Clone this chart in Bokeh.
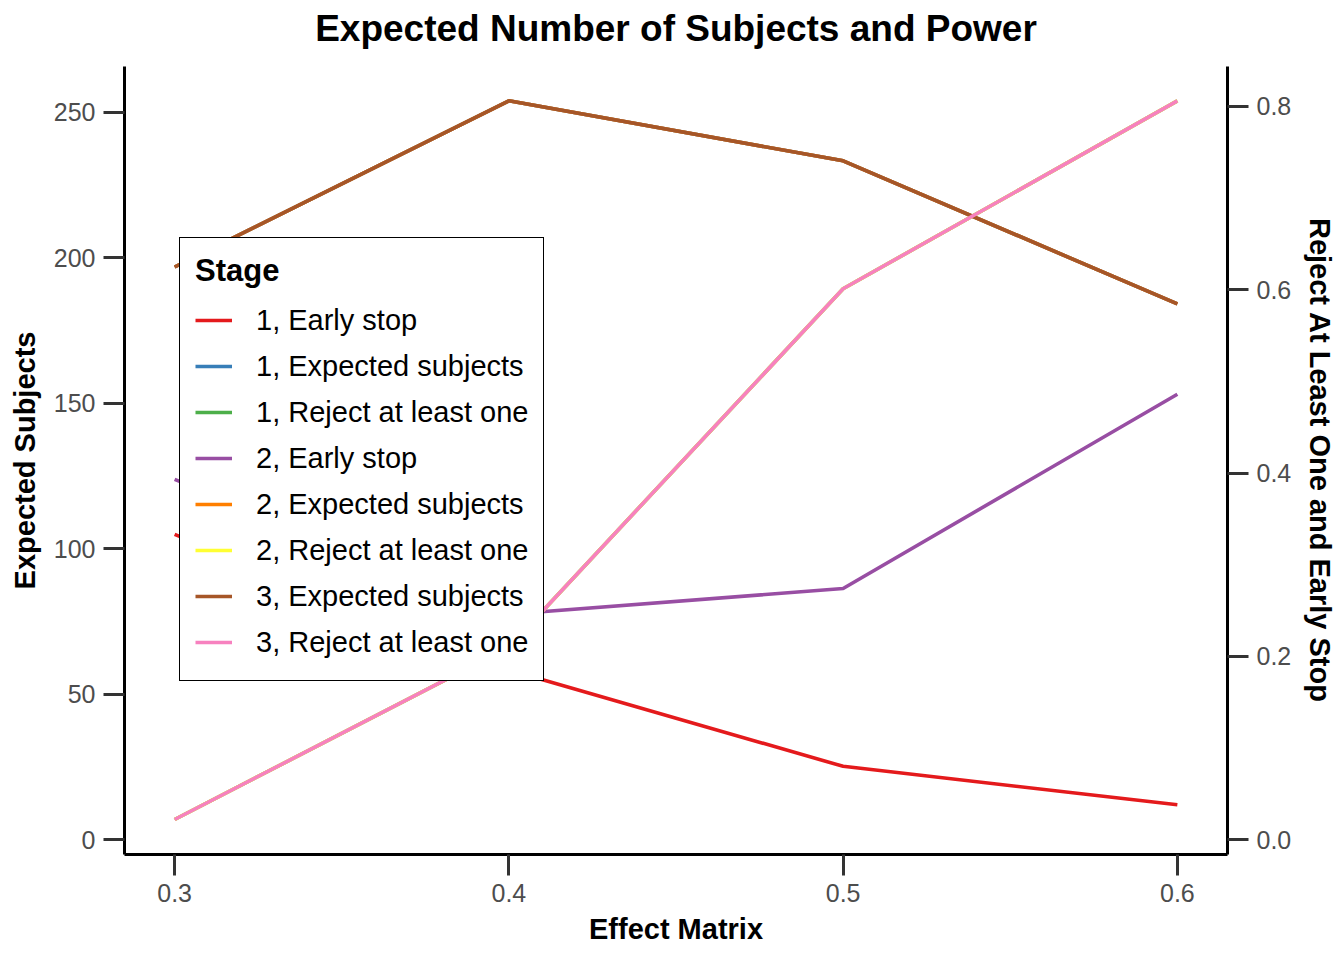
from bokeh.plotting import figure
from bokeh.models import (Range1d, LinearAxis, FixedTicker, Legend, LegendItem,
                          PrintfTickFormatter)
from bokeh.embed import file_html
from bokeh.resources import INLINE

# ---- data ----
effect = [0.3, 0.4, 0.5, 0.6]
stage_labels = ["1, Early stop", "1, Expected subjects", "1, Reject at least one",
                "2, Early stop", "2, Expected subjects", "2, Reject at least one",
                "3, Expected subjects", "3, Reject at least one"]
colors = ["#E41A1C", "#377EB8", "#4DAF4A", "#984EA3", "#FF7F00", "#FFFF33",
          "#A65628", "#F781BF"]

s1_early_stop = [0.333, 0.185, 0.080, 0.038]
s1_expected = [196.8, 253.9, 233.3, 184.1]
s1_reject = [0.022, 0.210, 0.601, 0.806]
s2_early_stop = [0.393, 0.246, 0.274, 0.486]
s2_expected = [196.8, 253.9, 233.3, 184.1]
s2_reject = [0.022, 0.210, 0.601, 0.806]
s3_expected = [196.8, 253.9, 233.3, 184.1]
s3_reject = [0.022, 0.210, 0.601, 0.806]

series = [s1_early_stop, s1_expected, s1_reject, s2_early_stop, s2_expected,
          s2_reject, s3_expected, s3_reject]
on_left = [False, True, False, False, True, False, True, False]

x_ticks = [0.3, 0.4, 0.5, 0.6]
left_ticks = [0, 50, 100, 150, 200, 250]
right_ticks = [0.0, 0.2, 0.4, 0.6, 0.8]

title_text = "Expected Number of Subjects and Power"

FONT = "Liberation Sans"

p = figure(frame_width=1103, frame_height=788,
           min_border_left=124, min_border_right=101,
           min_border_top=66, min_border_bottom=90,
           x_range=Range1d(0.285, 0.615), y_range=Range1d(-5.1, 265.7),
           output_backend="svg", toolbar_location=None)
p.extra_y_ranges = {"power": Range1d(-5.1 / 315.0, 265.7 / 315.0)}

p.outline_line_color = None
p.xgrid.visible = False
p.ygrid.visible = False
p.background_fill_color = "white"
p.border_fill_color = "white"

bottom_axis = p.below[0]
left_axis = p.left[0]
right_axis = LinearAxis(y_range_name="power")
p.add_layout(right_axis, "right")


def style_axis(ax, label, ticks, fmt=None, label_standoff=8):
    ax.axis_label = label
    ax.ticker = FixedTicker(ticks=ticks)
    if fmt is not None:
        ax.formatter = PrintfTickFormatter(format=fmt)
    ax.axis_label_text_font = FONT
    ax.axis_label_text_font_size = "29px"
    ax.axis_label_text_font_style = "bold"
    ax.axis_label_text_color = "black"
    ax.major_label_text_font = FONT
    ax.major_label_text_font_size = "25px"
    ax.major_label_text_color = "#4D4D4D"
    ax.major_tick_out = 21
    ax.major_tick_in = 0
    ax.major_tick_line_width = 3
    ax.major_tick_line_color = "#333333"
    ax.minor_tick_line_color = None
    ax.axis_line_width = 3
    ax.axis_line_color = "black"
    ax.major_label_standoff = 8
    ax.axis_label_standoff = label_standoff


style_axis(bottom_axis, "Effect Matrix", x_ticks, "%.1f", 8)
style_axis(left_axis, "Expected Subjects", left_ticks, None, 10)
style_axis(right_axis, "Reject At Least One and Early Stop", right_ticks, "%.1f", 10)

# title: drawn as the label of a bare axis above the plot area
title_axis = LinearAxis(ticker=FixedTicker(ticks=[]), axis_label=title_text)
title_axis.axis_line_color = None
title_axis.major_tick_line_color = None
title_axis.minor_tick_line_color = None
title_axis.major_tick_out = 0
title_axis.major_tick_in = 0
title_axis.minor_tick_out = 0
title_axis.minor_tick_in = 0
title_axis.major_label_standoff = 0
title_axis.major_label_text_font_size = "0px"
title_axis.axis_label_standoff = 18
title_axis.axis_label_text_font = FONT
title_axis.axis_label_text_font_size = "37px"
title_axis.axis_label_text_font_style = "bold"
title_axis.axis_label_text_color = "black"
p.add_layout(title_axis, "above")

items = []
for lab, col, ys, left in zip(stage_labels, colors, series, on_left):
    kw = {} if left else {"y_range_name": "power"}
    r = p.line(effect, ys, line_color=col, line_width=3.6, **kw)
    items.append(LegendItem(label=lab, renderers=[r]))

legend = Legend(items=items, location=(55, 173), title="Stage",
                title_text_font=FONT, title_text_font_size="31px",
                title_text_font_style="bold", title_text_color="black",
                title_standoff=8,
                label_text_font=FONT, label_text_font_size="29px",
                label_text_color="black",
                glyph_width=37, glyph_height=46, label_height=46, spacing=0,
                label_standoff=24, padding=15, margin=0,
                border_line_color="black", border_line_width=1.5,
                border_line_alpha=1.0,
                background_fill_color="white", background_fill_alpha=1.0)
p.add_layout(legend)

open("out.html", "w").write(file_html(p, INLINE))
